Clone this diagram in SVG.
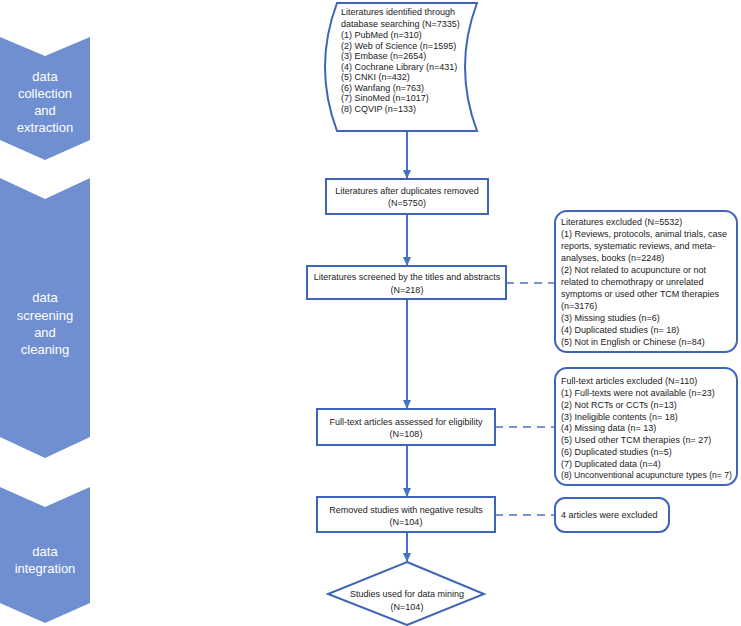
<svg xmlns="http://www.w3.org/2000/svg" width="741" height="626" viewBox="0 0 741 626">
<style>
.chev{fill:#6F8FD1;}
.ct{font-family:"Liberation Sans",Arial,sans-serif;font-size:13px;fill:#ffffff;text-anchor:middle;}
.box{fill:#ffffff;stroke:#3F65B8;stroke-width:2;}
.t{font-family:"Liberation Sans",Arial,sans-serif;font-size:9px;fill:#222222;}
.m{text-anchor:middle;}
.ln{stroke:#4A72C4;stroke-width:2;fill:none;}
.dash{stroke:#4A72C4;stroke-width:1.5;fill:none;stroke-dasharray:8,6;}
</style>
<defs>
<marker id="ah" markerWidth="10" markerHeight="10" refX="8" refY="5" orient="auto" markerUnits="userSpaceOnUse">
<path d="M0,1 L9,5 L0,9 Z" fill="#4A72C4"/>
</marker>
</defs>
<rect width="741" height="626" fill="#ffffff"/>

<g id="stage1">
<polygon class="chev" points="0,37 45,56 90,37 90,140 45,160 0,140"/>
<text class="ct"><tspan x="45" y="81">data</tspan><tspan x="45" y="98">collection</tspan><tspan x="45" y="115">and</tspan><tspan x="45" y="132">extraction</tspan></text>
</g>
<g id="stage2">
<polygon class="chev" points="0,178 45,199 90,178 90,437 45,458 0,437"/>
<text class="ct"><tspan x="45" y="302">data</tspan><tspan x="45" y="320">screening</tspan><tspan x="45" y="337">and</tspan><tspan x="45" y="354">cleaning</tspan></text>
</g>
<g id="stage3">
<polygon class="chev" points="0,487 45,507 90,487 90,603 45,623 0,603"/>
<text class="ct"><tspan x="45" y="556">data</tspan><tspan x="45" y="573">integration</tspan></text>
</g>

<g id="connectors">
<line class="ln" x1="407" y1="132" x2="407" y2="178" marker-end="url(#ah)"/>
<line class="ln" x1="407" y1="214" x2="407" y2="265" marker-end="url(#ah)"/>
<line class="ln" x1="407" y1="299" x2="407" y2="408" marker-end="url(#ah)"/>
<line class="ln" x1="407" y1="445" x2="407" y2="496" marker-end="url(#ah)"/>
<line class="ln" x1="407" y1="532" x2="407" y2="561" marker-end="url(#ah)"/>
<line class="dash" x1="506" y1="283" x2="555" y2="283"/>
<line class="dash" x1="495" y1="427" x2="555" y2="427"/>
<line class="dash" x1="495" y1="515" x2="555" y2="515"/>
</g>

<g id="identified">
<path class="box" d="M337,3 L477,3 Q453,67 477,131 L337,131 Q313,67 337,3 Z"/>
<text class="t"><tspan x="341" y="15">Literatures identified through</tspan><tspan x="341" y="27">database searching (N=7335)</tspan><tspan x="341" y="38">(1) PubMed (n=310)</tspan><tspan x="341" y="48.5">(2) Web of Science (n=1595)</tspan><tspan x="341" y="59">(3) Embase (n=2654)</tspan><tspan x="341" y="69.5">(4) Cochrane Library (n=431)</tspan><tspan x="341" y="80">(5) CNKI (n=432)</tspan><tspan x="341" y="90.5">(6) Wanfang (n=763)</tspan><tspan x="341" y="101">(7) SinoMed (n=1017)</tspan><tspan x="341" y="111.5">(8) CQVIP (n=133)</tspan></text>
</g>

<g id="dedup">
<rect class="box" x="326" y="179" width="162" height="35"/>
<text class="t m"><tspan x="407" y="194">Literatures after duplicates removed</tspan><tspan x="407" y="206">(N=5750)</tspan></text>
</g>

<g id="screened">
<rect class="box" x="307" y="266" width="199" height="33"/>
<text class="t m"><tspan x="407" y="280">Literatures screened by the titles and abstracts</tspan><tspan x="407" y="293">(N=218)</tspan></text>
</g>

<g id="excluded1">
<rect class="box" x="555" y="211" width="182" height="141" rx="12"/>
<text class="t"><tspan x="561" y="225">Literatures excluded (N=5532)</tspan><tspan x="561" y="237">(1) Reviews, protocols, animal trials, case</tspan><tspan x="561" y="249">reports, systematic reviews, and meta-</tspan><tspan x="561" y="261">analyses, books (n=2248)</tspan><tspan x="561" y="273">(2) Not related to acupuncture or not</tspan><tspan x="561" y="285">related to chemothrapy or unrelated</tspan><tspan x="561" y="297">symptoms or used other TCM therapies</tspan><tspan x="561" y="309">(n=3176)</tspan><tspan x="561" y="321">(3) Missing studies (n=6)</tspan><tspan x="561" y="333">(4) Duplicated studies (n= 18)</tspan><tspan x="561" y="345">(5) Not in English or Chinese (n=84)</tspan></text>
</g>

<g id="fulltext">
<rect class="box" x="317" y="409" width="178" height="36"/>
<text class="t m"><tspan x="406" y="425">Full-text articles assessed for eligibility</tspan><tspan x="406" y="437">(N=108)</tspan></text>
</g>

<g id="excluded2">
<rect class="box" x="555" y="368" width="182" height="117" rx="12"/>
<text class="t"><tspan x="561" y="384">Full-text articles excluded (N=110)</tspan><tspan x="561" y="396">(1) Full-texts were not available (n=23)</tspan><tspan x="561" y="408">(2) Not RCTs or CCTs (n=13)</tspan><tspan x="561" y="420">(3) Ineligible contents (n= 18)</tspan><tspan x="561" y="431">(4) Missing data (n= 13)</tspan><tspan x="561" y="443">(5) Used other TCM therapies (n= 27)</tspan><tspan x="561" y="455">(6) Duplicated studies (n=5)</tspan><tspan x="561" y="467">(7) Duplicated data (n=4)</tspan></text>
<text class="t" x="561" y="478" textLength="171" lengthAdjust="spacingAndGlyphs">(8) Unconventional acupuncture types (n= 7)</text>
</g>

<g id="removed">
<rect class="box" x="317" y="497" width="178" height="35"/>
<text class="t m"><tspan x="406" y="513">Removed studies with negative results</tspan><tspan x="406" y="525">(N=104)</tspan></text>
</g>

<g id="excluded3">
<rect class="box" x="555" y="498" width="114" height="34" rx="10"/>
<text class="t" x="561" y="518">4 articles were excluded</text>
</g>

<g id="mining">
<polygon class="box" points="407,562 484,594 407,625 328,594"/>
<text class="t m"><tspan x="407" y="597">Studies used for data mining</tspan><tspan x="407" y="610">(N=104)</tspan></text>
</g>
</svg>
